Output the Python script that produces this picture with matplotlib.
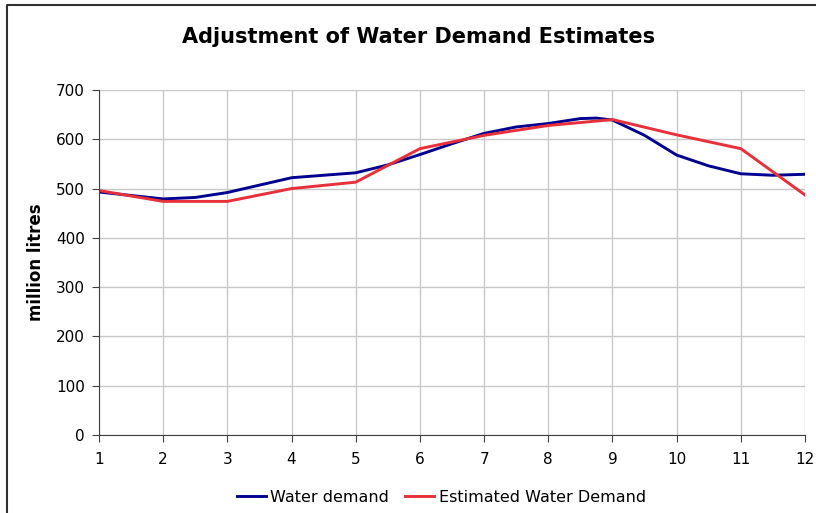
import numpy as np
import matplotlib.pyplot as plt
from matplotlib.lines import Line2D

# water demand (read at half-month steps)
demand_x = [1, 1.5, 2, 2.5, 3, 3.5, 4, 4.5, 5, 5.5, 6, 6.5, 7, 7.5, 8, 8.5, 8.75,
            9, 9.5, 10, 10.5, 11, 11.5, 12]
demand_y = [493, 486, 479, 482, 492, 507, 522, 527, 532, 548, 569, 591, 612, 625,
            632, 642, 643, 639, 608, 568, 546, 530, 527, 529]

# estimated water demand (monthly)
est_x = [1, 2, 3, 4, 5, 6, 7, 8, 9, 10, 11, 12]
est_y = [496, 474, 474, 500, 513, 581, 608, 628, 640, 609, 581, 487]

blue = '#000090'
red = '#E8303A'

fig = plt.figure(figsize=(8.16, 5.13), dpi=100)
ax = fig.add_axes([99/816, 1-435/513, (805-99)/816, (435-90)/513])

ax.plot(demand_x, demand_y, color=blue, lw=2.1, label='Water demand', solid_joinstyle='round')
ax.plot(est_x, est_y, color=red, lw=2.1, label='Estimated Water Demand')

ax.set_xlim(1, 12)
ax.set_ylim(0, 700)
ax.set_xticks(range(1, 13))
ax.set_yticks(range(0, 701, 100))
ax.grid(True, color='#c8c8c8', lw=1)
ax.set_axisbelow(True)
for s in ['top', 'right']:
    ax.spines[s].set_visible(False)
for s in ['left', 'bottom']:
    ax.spines[s].set_color('#404040')
ax.tick_params(axis='both', colors='#404040', labelcolor='black', labelsize=11, length=5)
ax.tick_params(axis='x', pad=7)
ax.tick_params(axis='y', pad=5)

ax.set_ylabel('million litres', fontsize=12, fontweight='bold', labelpad=8)
fig.text(0.513, 1-37/513, 'Adjustment of Water Demand Estimates', ha='center', va='center',
         fontsize=15, fontweight='bold')

ax.legend(loc='center', bbox_to_anchor=(0.485, (435-497)/345), ncol=2, frameon=False,
          fontsize=11.5, handlelength=1.8, handletextpad=0.3, columnspacing=1.0)

# outer chart border
fig.add_artist(Line2D([7/816, 7/816, 1], [0, 1-5/513, 1-5/513], transform=fig.transFigure,
                      color='#303030', lw=1.5))

fig.savefig('out.png', dpi=100)
